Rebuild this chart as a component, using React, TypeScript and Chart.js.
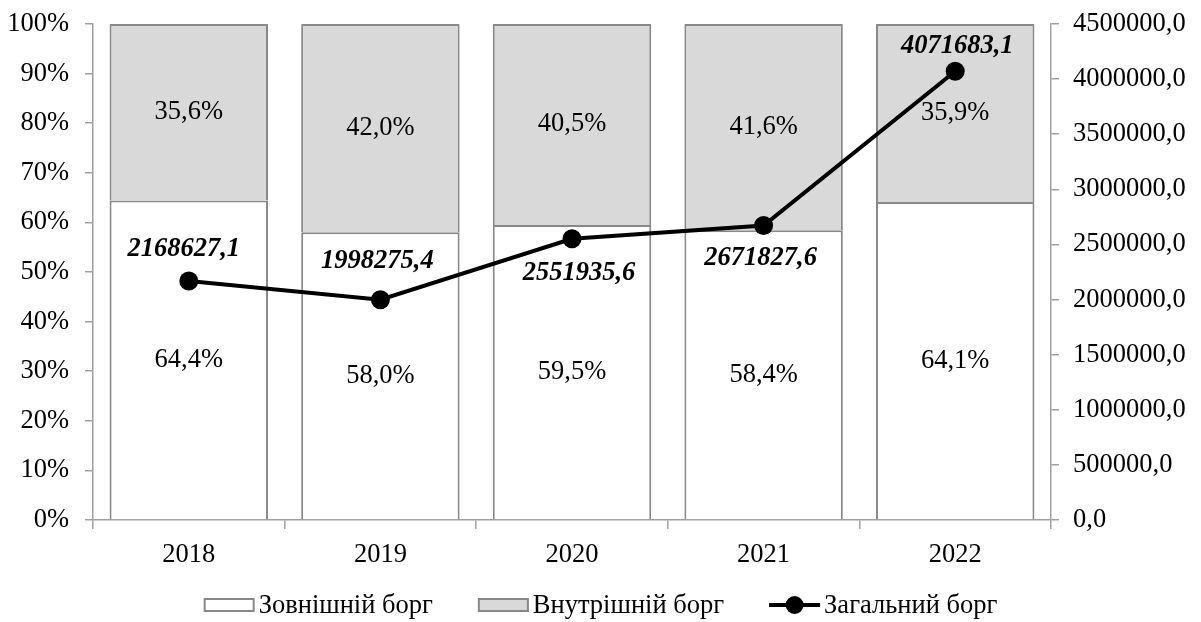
import { useEffect, useRef } from "react";
import { Chart, registerables } from "chart.js";

Chart.register(...registerables);

// Debt structure by year
const years = ["2018", "2019", "2020", "2021", "2022"];
const externalShare = [64.4, 58.0, 59.5, 58.4, 64.1];
const internalShare = [35.6, 42.0, 40.5, 41.6, 35.9];
const totalDebt = [2168627.1, 1998275.4, 2551935.6, 2671827.6, 4071683.1];
const seriesNames = ["Зовнішній борг", "Внутрішній борг", "Загальний борг"];

const FONT = '"Liberation Serif", "Times New Roman", serif';
const AXIS_GRAY = "#a0a0a0";
const BAR_EDGE = "#888888";
const INTERNAL_FILL = "#d9d9d9";
const W = 1201;
const H = 622;

const fmtNum = (v: number) => v.toFixed(1).replace(".", ",");
const fmtPct = (v: number) => v.toFixed(1).replace(".", ",") + "%";

// Nudges (dx, dy) for the total-debt labels so they sit clear of the line
const totalLabelShift: [number, number][] = [
  [-5, -32],
  [-3, -39],
  [7, 34],
  [-3, 33],
  [2, -25],
];

const valueLabels = {
  id: "valueLabels",
  afterDatasetsDraw(chart: any) {
    const ctx = chart.ctx;
    ctx.save();
    ctx.textAlign = "center";
    ctx.textBaseline = "middle";
    ctx.fillStyle = "#000";
    ctx.font = `26.5px ${FONT}`;
    [0, 1].forEach((di) => {
      const meta = chart.getDatasetMeta(di);
      const vals = chart.data.datasets[di].data as number[];
      meta.data.forEach((el: any, i: number) => {
        const { x, y, base } = el.getProps(["x", "y", "base"], true);
        ctx.fillText(fmtPct(vals[i]), x, (y + base) / 2);
      });
    });
    ctx.font = `italic bold 26.5px ${FONT}`;
    const lineMeta = chart.getDatasetMeta(2);
    lineMeta.data.forEach((pt: any, i: number) => {
      const { x, y } = pt.getProps(["x", "y"], true);
      const [dx, dy] = totalLabelShift[i];
      ctx.fillText(fmtNum(totalDebt[i]), x + dx, y + dy);
    });
    ctx.restore();
  },
};

const bottomLegend = {
  id: "bottomLegend",
  afterDraw(chart: any) {
    const ctx = chart.ctx;
    ctx.save();
    ctx.font = `26.5px ${FONT}`;
    ctx.textBaseline = "middle";
    ctx.textAlign = "left";
    const cy = 605;
    const boxW = 51;
    const boxH = 14;
    const textGap = 4;
    const itemGap = 45;
    const widths = seriesNames.map((n) => ctx.measureText(n).width);
    const total =
      widths.reduce((a: number, w: number) => a + boxW + textGap + w, 0) +
      itemGap * (seriesNames.length - 1);
    let x = (chart.width - total) / 2;
    seriesNames.forEach((name, i) => {
      if (i < 2) {
        ctx.fillStyle = i === 0 ? "#ffffff" : INTERNAL_FILL;
        ctx.fillRect(x, cy - boxH / 2, boxW, boxH);
        ctx.strokeStyle = BAR_EDGE;
        ctx.lineWidth = 2;
        ctx.strokeRect(x + 1, cy - boxH / 2 + 1, boxW - 2, boxH - 2);
      } else {
        ctx.strokeStyle = "#000";
        ctx.lineWidth = 4;
        ctx.beginPath();
        ctx.moveTo(x, cy);
        ctx.lineTo(x + boxW, cy);
        ctx.stroke();
        ctx.fillStyle = "#000";
        ctx.beginPath();
        ctx.arc(x + boxW / 2, cy, 9, 0, Math.PI * 2);
        ctx.fill();
      }
      ctx.fillStyle = "#000";
      ctx.fillText(name, x + boxW + textGap, cy + 1);
      x += boxW + textGap + widths[i] + itemGap;
    });
    ctx.restore();
  },
};

export default function App() {
  const canvasRef = useRef<HTMLCanvasElement | null>(null);

  useEffect(() => {
    document.body.style.margin = "0";
    document.body.style.overflow = "hidden";
    if (!canvasRef.current) return;
    const tickFont = { family: FONT, size: 26.5 };
    const chart = new Chart(canvasRef.current, {
      type: "bar",
      data: {
        labels: years,
        datasets: [
          {
            type: "bar",
            label: seriesNames[0],
            data: externalShare,
            backgroundColor: "#ffffff",
            borderColor: BAR_EDGE,
            borderWidth: 2,
            yAxisID: "y",
            order: 1,
            barPercentage: 0.827,
            categoryPercentage: 1,
          },
          {
            type: "bar",
            label: seriesNames[1],
            data: internalShare,
            backgroundColor: INTERNAL_FILL,
            borderColor: BAR_EDGE,
            borderWidth: 2,
            yAxisID: "y",
            order: 1,
            barPercentage: 0.827,
            categoryPercentage: 1,
          },
          {
            type: "line",
            label: seriesNames[2],
            data: totalDebt,
            borderColor: "#000",
            borderWidth: 4,
            backgroundColor: "#000",
            pointBackgroundColor: "#000",
            pointBorderWidth: 0,
            pointRadius: 9.5,
            tension: 0,
            yAxisID: "y1",
            order: 0,
          },
        ],
      },
      options: {
        responsive: false,
        animation: false,
        layout: { padding: { top: 24, left: 0, right: 0, bottom: 0 } },
        plugins: {
          legend: { display: false },
          tooltip: { enabled: false },
        },
        scales: {
          x: {
            stacked: true,
            grid: {
              display: true,
              drawOnChartArea: false,
              drawTicks: true,
              tickLength: 9,
              color: AXIS_GRAY,
              lineWidth: 1.5,
            },
            border: { display: true, color: AXIS_GRAY, width: 1.5 },
            ticks: { color: "#000", font: tickFont, padding: 10 },
            afterFit(scale: any) {
              scale.height = 102;
              scale.paddingLeft = 0;
              scale.paddingRight = 0;
            },
          },
          y: {
            stacked: true,
            position: "left",
            min: 0,
            max: 100,
            grid: {
              display: true,
              drawOnChartArea: false,
              drawTicks: true,
              tickLength: 8,
              color: AXIS_GRAY,
              lineWidth: 1.5,
            },
            border: { display: true, color: AXIS_GRAY, width: 1.5 },
            ticks: {
              stepSize: 10,
              color: "#000",
              font: tickFont,
              padding: 16,
              callback: (v: any) => `${v}%`,
            },
            afterFit(scale: any) {
              scale.width = 93;
              scale.paddingTop = 0;
              scale.paddingBottom = 0;
            },
          },
          y1: {
            position: "right",
            min: 0,
            max: 4500000,
            grid: {
              display: true,
              drawOnChartArea: false,
              drawTicks: true,
              tickLength: 8,
              color: AXIS_GRAY,
              lineWidth: 1.5,
            },
            border: { display: true, color: AXIS_GRAY, width: 1.5 },
            ticks: {
              stepSize: 500000,
              color: "#000",
              font: tickFont,
              padding: 14,
              callback: (v: any) => fmtNum(Number(v)),
            },
            afterFit(scale: any) {
              scale.width = 150;
              scale.paddingTop = 0;
              scale.paddingBottom = 0;
            },
          },
        },
      },
      plugins: [valueLabels, bottomLegend],
    } as any);
    return () => chart.destroy();
  }, []);

  return (
    <div style={{ width: W, height: H }}>
      <canvas ref={canvasRef} width={W} height={H} style={{ display: "block" }} />
    </div>
  );
}
